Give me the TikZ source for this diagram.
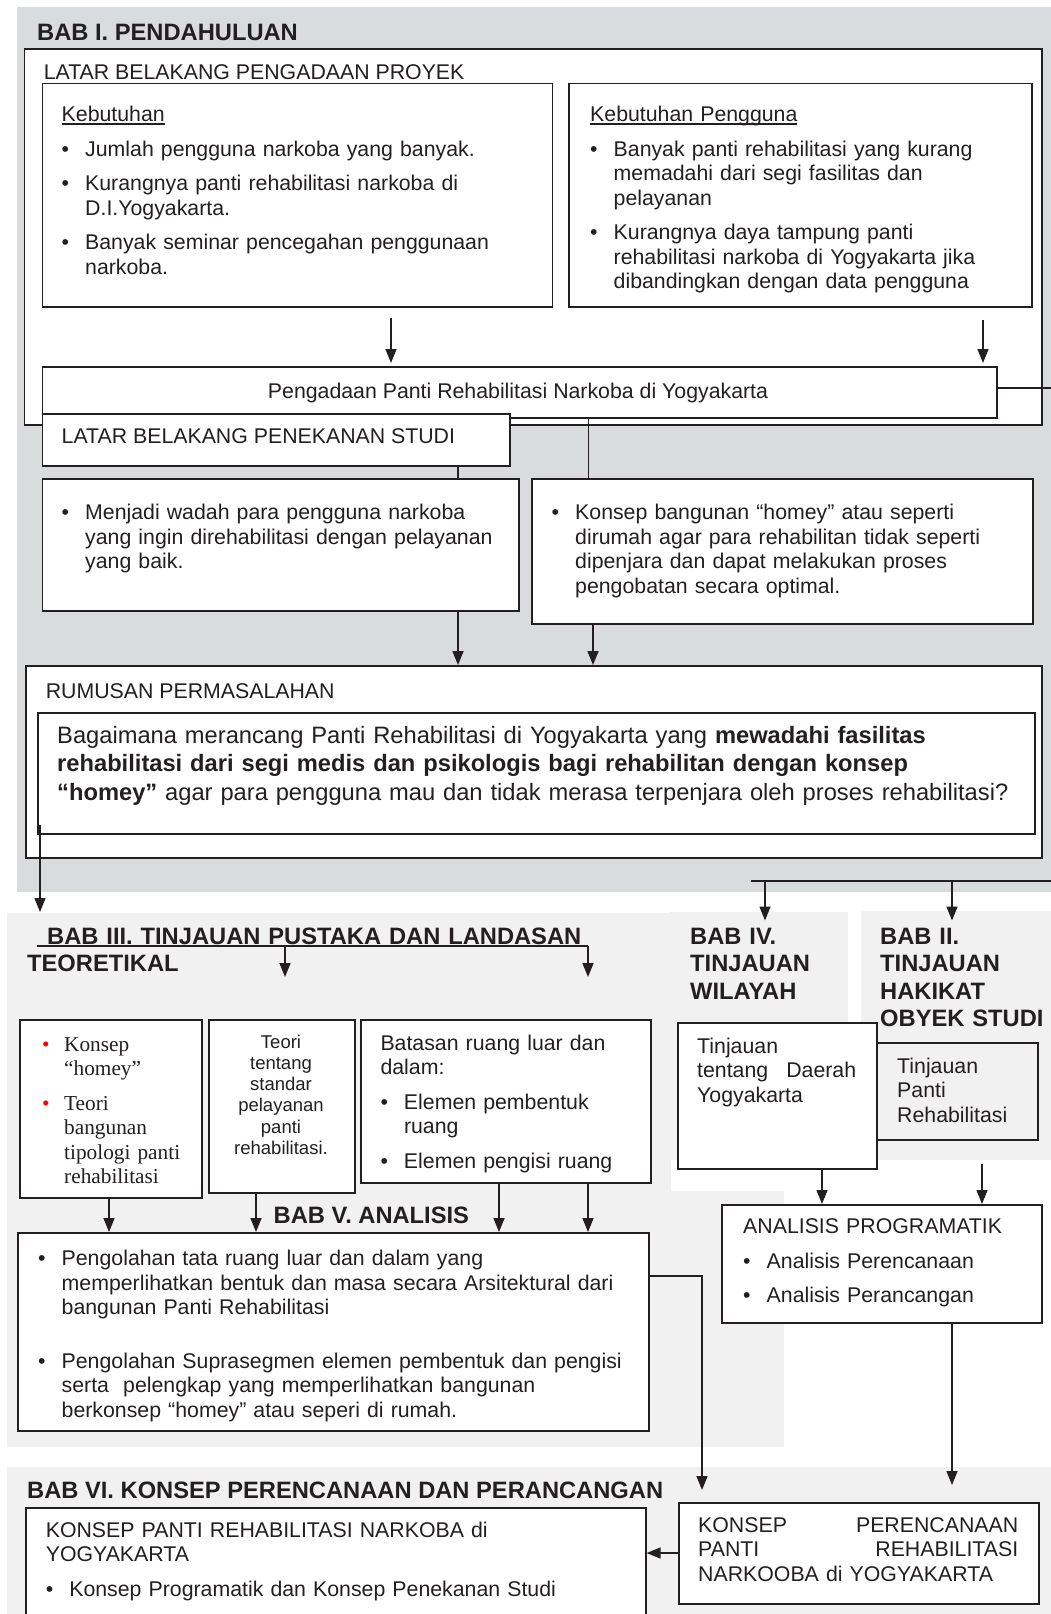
\documentclass[tikz,border=0pt]{standalone}
\usepackage{fontspec}
\setmainfont{Liberation Sans}
\newfontfamily\hurufserif{Liberation Serif}
\usetikzlibrary{arrows.meta}

\definecolor{garis}{RGB}{35,31,32}
\definecolor{latarbab}{RGB}{218,219,221}
\definecolor{latarmuda}{RGB}{241,241,241}

\newlength{\panjanggaris}
\newcommand{\garisbawah}[1]{\leavevmode\settowidth{\panjanggaris}{#1}\rlap{\rule[-3pt]{\panjanggaris}{1.3pt}}#1}
\newcommand{\butir}[2][10pt]{\ifdim#1>0pt\relax\par\vspace{#1}\fi\hangindent=23.5pt\hangafter=1\noindent\makebox[23.5pt][l]{\textbullet}#2\par}
\newcommand{\butirmerah}[2][10pt]{\ifdim#1>0pt\relax\par\vspace{#1}\fi\hangindent=22pt\hangafter=1\noindent\makebox[22pt][l]{\textcolor{red}{\textbullet}}#2\par}

\tikzset{
	kotak/.style={draw=garis, line width=1.6pt, fill=white, anchor=north west, inner sep=0pt},
	teks/.style={font=\fontsize{21.3pt}{24.5pt}\selectfont, text=garis, inner sep=0pt, anchor=base west, align=left},
	judul/.style={font=\bfseries\fontsize{23.7pt}{27.5pt}\selectfont, text=garis, inner sep=0pt, anchor=base west, align=left},
	hubung/.style={draw=garis, line width=1.5pt},
	panah/.style={hubung, -{Triangle[length=14pt,width=11pt]}}
}

\begin{document}
\begin{tikzpicture}[x=1pt,y=-1pt]
	\useasboundingbox (0,0) rectangle (1051,1614);
	\fill[latarbab] (17,7) rectangle (1051,892);
	\fill[latarmuda] (7,913) rectangle (671,1191);
	\fill[latarmuda] (7,1191) rectangle (784,1447);
	\fill[latarmuda] (670,912) rectangle (848,1160);
	\fill[latarmuda] (861,911) rectangle (1051,1160);
	\fill[latarmuda] (7,1467) rectangle (1051,1614);

	\node[kotak, minimum width=1017.5pt, minimum height=376pt] (bab1) at (23.5,48) {};
	\node[kotak, minimum width=510pt, minimum height=223.3pt] (kebutuhan) at (41.6,82.7) {};
	\node[kotak, minimum width=463pt, minimum height=223.3pt] (pengguna) at (568,82.7) {};
	\node[kotak, minimum width=954.4pt, minimum height=51pt] (pengadaan) at (41.6,366) {};
	\node[kotak, minimum width=467.4pt, minimum height=52pt] (penekanan) at (41.6,413) {};
	\node[kotak, minimum width=476.4pt, minimum height=132pt] (menjadi) at (41.6,478) {};
	\node[kotak, minimum width=501pt, minimum height=145pt] (konsepbang) at (531,478) {};
	\node[kotak, minimum width=1016pt, minimum height=192pt] (rumusan) at (25,665) {};
	\node[kotak, minimum width=997pt, minimum height=121pt] (rumusandalam) at (37,712) {};
	\node[kotak, minimum width=182pt, minimum height=178pt] (homey) at (19,1019) {};
	\node[kotak, minimum width=146pt, minimum height=173pt] (teori) at (208,1019) {};
	\node[kotak, minimum width=290pt, minimum height=163pt] (batasan) at (360,1019) {};
	\node[kotak, minimum width=199pt, minimum height=146pt] (daerah) at (677,1022) {};
	\node[kotak, fill=latarmuda, minimum width=161pt, minimum height=97pt] (panti) at (876,1042) {};
	\node[kotak, minimum width=631pt, minimum height=198pt] (babv) at (17,1232) {};
	\node[kotak, minimum width=320pt, minimum height=118pt] (analisis) at (721,1204) {};
	\node[kotak, minimum width=620pt, minimum height=130pt] (konsepkiri) at (25,1507) {};
	\node[kotak, minimum width=360pt, minimum height=101pt] (konsepkanan) at (678,1502) {};

	\node[judul] (jbab1) at (37,40) {BAB I. PENDAHULUAN};
	\node[teks] (tlatar1) at (43.6,79) {LATAR BELAKANG PENGADAAN PROYEK};
	\node[teks, text width=480pt] (tkebutuhan) at (61.5,121.5) {\garisbawah{Kebutuhan}\butir{Jumlah pengguna narkoba yang banyak.}\butir{Kurangnya panti rehabilitasi narkoba di\newline D.I.Yogyakarta.}\butir{Banyak seminar pencegahan penggunaan\newline narkoba.}};
	\node[teks, text width=430pt] (tpengguna) at (590,121.5) {\garisbawah{Kebutuhan Pengguna}\butir{Banyak panti rehabilitasi yang kurang\newline memadahi dari segi fasilitas dan\newline pelayanan}\butir{Kurangnya daya tampung panti\newline rehabilitasi narkoba di Yogyakarta jika\newline dibandingkan dengan data pengguna}};
	\node[teks, anchor=base] (tpengadaan) at (518,398) {Pengadaan Panti Rehabilitasi Narkoba di Yogyakarta};
	\node[teks] (tpenekanan) at (61.5,443) {LATAR BELAKANG PENEKANAN STUDI};
	\node[teks, text width=450pt] (tmenjadi) at (61.5,519.5) {\butir[0pt]{Menjadi wadah para pengguna narkoba\newline yang ingin direhabilitasi dengan pelayanan\newline yang baik.}};
	\node[teks, text width=465pt] (tkonsepbang) at (551.5,519.5) {\butir[0pt]{Konsep bangunan “homey” atau seperti\newline dirumah agar para rehabilitan tidak seperti\newline dipenjara dan dapat melakukan proses\newline pengobatan secara optimal.}};
	\node[teks] (trumusan) at (45.6,698) {RUMUSAN PERMASALAHAN};
	\node[teks, font=\fontsize{23.7pt}{28.5pt}\selectfont, text width=975pt] (tpertanyaan) at (57,743) {Bagaimana merancang Panti Rehabilitasi di Yogyakarta yang \textbf{mewadahi fasilitas}\newline \textbf{rehabilitasi dari segi medis dan psikologis bagi rehabilitan dengan konsep}\newline \textbf{“homey”} agar para pengguna mau dan tidak merasa terpenjara oleh proses rehabilitasi?};

	\node[judul, text width=600pt] (jbab3) at (27,944) {\hspace*{20pt}BAB III. TINJAUAN PUSTAKA DAN LANDASAN\newline TEORETIKAL};
	\node[judul, text width=150pt] (jbab4) at (690,944) {BAB IV.\newline TINJAUAN\newline WILAYAH};
	\node[judul, text width=170pt] (jbab2) at (880,944) {BAB II.\newline TINJAUAN\newline HAKIKAT\newline OBYEK STUDI};
	\node[teks, font=\hurufserif\fontsize{21.3pt}{24.5pt}\selectfont, text width=155pt] (thomey) at (42,1051) {\butirmerah[0pt]{Konsep\newline “homey”}\butirmerah{Teori\newline bangunan\newline tipologi panti\newline rehabilitasi}};
	\node[teks, font=\fontsize{18.5pt}{21.3pt}\selectfont, text width=140pt, align=center, anchor=base] (tteori) at (281,1048) {Teori\\ tentang\\ standar\\ pelayanan\\ panti\\ rehabilitasi.};
	\node[teks, text width=265pt] (tbatasan) at (380.3,1050) {Batasan ruang luar dan\newline dalam:\butir{Elemen pembentuk\newline ruang}\butir{Elemen pengisi ruang}};
	\node[teks, text width=175pt] (tdaerah) at (697,1053) {Tinjauan\newline \hbox to 159pt{tentang\hfill Daerah}\newline Yogyakarta};
	\node[teks, text width=135pt] (tpanti) at (897,1073) {Tinjauan\newline Panti\newline Rehabilitasi};

	\node[judul] (jbab5) at (273.5,1223) {BAB V. ANALISIS};
	\node[teks, text width=600pt] (tbabv) at (38,1265.5) {\butir[0pt]{Pengolahan tata ruang luar dan dalam yang\newline memperlihatkan bentuk dan masa secara Arsitektural dari\newline bangunan Panti Rehabilitasi}\butir[29pt]{Pengolahan Suprasegmen elemen pembentuk dan pengisi\newline serta\ \ pelengkap yang memperlihatkan bangunan\newline berkonsep “homey” atau seperi di rumah.}};
	\node[teks, text width=290pt] (tanalisis) at (743,1233.5) {ANALISIS PROGRAMATIK\butir{Analisis Perencanaan}\butir{Analisis Perancangan}};

	\node[judul] (jbab6) at (27,1498) {BAB VI. KONSEP PERENCANAAN DAN PERANCANGAN};
	\node[teks, text width=595pt] (tkonsepkiri) at (45.6,1537) {KONSEP PANTI REHABILITASI NARKOBA di\newline YOGYAKARTA\butir{Konsep Programatik dan Konsep Penekanan Studi}};
	\node[teks, text width=330pt] (tkonsepkanan) at (698,1532) {\hbox to 320pt{KONSEP\hfill PERENCANAAN}\newline \hbox to 320pt{PANTI\hfill REHABILITASI}\newline NARKOOBA di YOGYAKARTA};

	\coordinate (ujungkanan) at (1051,388);
	\coordinate (masukbab3) at (40,912);
	\coordinate (garisa) at (751,881);
	\coordinate (garisb) at (1051,881);
	\coordinate (bab3a) at (37,946);
	\coordinate (bab3b) at (588,946);

	\draw[panah, shorten <=10pt, shorten >=3pt] (kebutuhan.south -| 391,0) -- (pengadaan.north -| 391,0);
	\draw[panah, shorten <=12pt, shorten >=3pt] (pengguna.south -| 983,0) -- (pengadaan.north -| 983,0);
	\draw[hubung] (pengadaan.east |- ujungkanan) -- (ujungkanan);
	\draw[hubung] (pengadaan.south -| 588.5,0) -- (konsepbang.north -| 588.5,0);
	\draw[hubung] (penekanan.south -| 458,0) -- (menjadi.north -| 458,0);
	\draw[panah] (menjadi.south -| 458,0) -- (rumusan.north -| 458,0);
	\draw[panah] (konsepbang.south -| 593,0) -- (rumusan.north -| 593,0);
	\draw[panah, shorten <=-10pt] (rumusandalam.south -| masukbab3) -- (masukbab3);
	\draw[hubung] (garisa) -- (garisb);
	\draw[panah, shorten >=7pt] (garisa -| 765,0) -- (jbab4.north -| 765,0);
	\draw[panah, shorten >=7pt] (garisa -| 952,0) -- (jbab2.north -| 952,0);
	\draw[hubung] (bab3a) -- (bab3b);
	\draw[panah, shorten >=42pt] (bab3a -| 285,0) -- (teori.north -| 285,0);
	\draw[panah, shorten >=42pt] (bab3b) -- (batasan.north -| bab3b);
	\draw[panah] (daerah.south -| 822,0) -- (analisis.north -| 822,0);
	\draw[panah, shorten <=23pt] (panti.south -| 982,0) -- (analisis.north -| 982,0);
	\draw[panah] (homey.south -| 109,0) -- (babv.north -| 109,0);
	\draw[panah] (teori.south -| 256,0) -- (babv.north -| 256,0);
	\draw[panah] (batasan.south -| 499,0) -- (babv.north -| 499,0);
	\draw[panah] (batasan.south -| 588,0) -- (babv.north -| 588,0);
	\draw[panah, shorten >=12pt] (babv.east |- 0,1276) -| (konsepkanan.north -| 702,0);
	\draw[panah, shorten >=17pt] (analisis.south -| 952,0) -- (konsepkanan.north -| 952,0);
	\draw[panah] (konsepkanan.west |- 0,1553) -- (konsepkiri.east |- 0,1553);
\end{tikzpicture}
\end{document}
